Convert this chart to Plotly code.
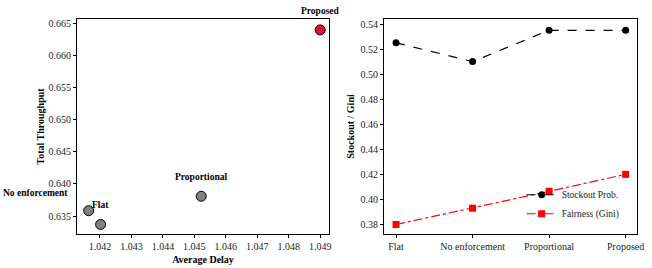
import plotly.graph_objects as go

# Data
methods = ["Flat", "No enforcement", "Proportional", "Proposed"]
avg_delay = [1.04202, 1.04164, 1.04522, 1.04900]
throughput = [0.63369, 0.63583, 0.63808, 0.66400]
stockout = [0.525, 0.510, 0.535, 0.535]
gini = [0.380, 0.393, 0.4065, 0.420]
point_colors = ["#808080", "#808080", "#808080", "#DC143C"]
label_shift = [(0, 19), (-53, 18), (0, 19), (0, 19)]

FONT = "Liberation Serif"

fig = go.Figure()

fig.add_trace(go.Scatter(
    x=avg_delay, y=throughput, mode="markers",
    marker=dict(size=10, color=point_colors, line=dict(color="black", width=1)),
    xaxis="x", yaxis="y", showlegend=False, hoverinfo="skip"))

for m, dx, dy, (sx, sy) in zip(methods, avg_delay, throughput, label_shift):
    fig.add_annotation(x=dx, y=dy, xref="x", yref="y", text="<b>%s</b>" % m,
                       showarrow=False, xshift=sx, yshift=sy,
                       font=dict(family=FONT, size=9.5, color="black"))

fig.add_trace(go.Scatter(
    x=methods, y=stockout, mode="lines+markers", name="Stockout Prob.",
    line=dict(color="black", dash="dash", width=1.2),
    marker=dict(symbol="circle", size=7, color="black"),
    xaxis="x2", yaxis="y2", hoverinfo="skip"))
fig.add_trace(go.Scatter(
    x=methods, y=gini, mode="lines+markers", name="Fairness (Gini)",
    line=dict(color="red", dash="dashdot", width=1.2),
    marker=dict(symbol="square", size=7, color="red"),
    xaxis="x2", yaxis="y2", hoverinfo="skip"))

W, H = 652, 268
ML, MR, MT, MB = 77, 15, 19, 33.5
PW = W - ML - MR
axis_common = dict(showline=True, linecolor="black", linewidth=1, mirror=True,
                   ticks="outside", ticklen=3, tickcolor="black", showgrid=False,
                   zeroline=False, automargin=False,
                   tickfont=dict(family=FONT, size=10, color="#222"))
title_font = dict(family=FONT, size=10, color="black")

fig.update_layout(
    width=W, height=H, margin=dict(l=ML, r=MR, t=MT, b=MB),
    paper_bgcolor="white", plot_bgcolor="white",
    font=dict(family=FONT, color="black"),
    xaxis=dict(domain=[0, (329 - ML) / PW], range=[1.04127, 1.04928],
               tickvals=[1.042, 1.043, 1.044, 1.045, 1.046, 1.047, 1.048, 1.049],
               tickformat=".3f", anchor="y",
               title=dict(text="<b>Average Delay</b>", font=title_font, standoff=4),
               **axis_common),
    yaxis=dict(domain=[0, 1], range=[0.6322, 0.6657],
               tickvals=[0.635, 0.640, 0.645, 0.650, 0.655, 0.660, 0.665],
               tickformat=".3f", anchor="x",
               title=dict(text="<b>Total Throughput</b>", font=title_font, standoff=2),
               **axis_common),
    xaxis2=dict(domain=[(384 - ML) / PW, 1], range=[-0.157, 3.148], anchor="y2",
                type="category", **axis_common),
    yaxis2=dict(domain=[0, 1], range=[0.3724, 0.5440], anchor="x2",
                tickvals=[0.38, 0.40, 0.42, 0.44, 0.46, 0.48, 0.50, 0.52, 0.54],
                tickformat=".2f",
                title=dict(text="<b>Stockout / Gini</b>", font=title_font, standoff=4),
                **axis_common),
    legend=dict(x=0.794, y=0.25, xanchor="left", yanchor="top",
                bgcolor="rgba(0,0,0,0)", font=dict(family=FONT, size=9.5, color="#222"),
                tracegroupgap=0, itemwidth=30),
)

fig.write_html("out.html", config={"displayModeBar": False},
               post_script="document.body.style.margin='0';document.body.style.overflow='hidden';")
